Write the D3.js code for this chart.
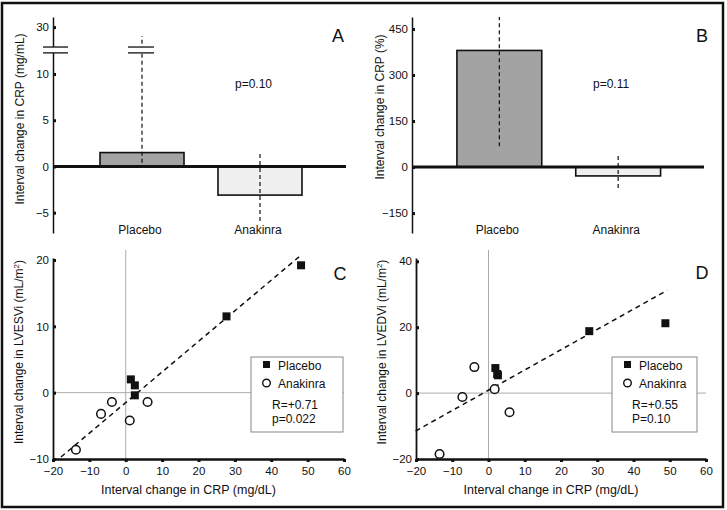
<!DOCTYPE html>
<html><head><meta charset="utf-8">
<script src="https://cdn.jsdelivr.net/npm/d3@7"></script>
<style>
body{margin:0;background:#fff}
svg{display:block}
text{font-family:"Liberation Sans",Arial,Helvetica,sans-serif;fill:#111}
</style>
</head><body>
<svg id="chart" width="727" height="510"></svg>
<script>
// ---------------- DATA ----------------
const groups = ["Placebo", "Anakinra"];

// Panel A: interval change in CRP (mg/mL)
const aMeans = [1.5, -3.1];
const aErrLo = [0.4, -5.9];
const aErrHi = [26.2, 1.5];
const aTicks = [-5, 0, 5, 10, 30];
const aBreak = [19, 21.5];
const aP = "p=0.10";

// Panel B: interval change in CRP (%)
const bMeans = [380, -29];
const bErrLo = [68, -68];
const bErrHi = [489, 45];
const bTicks = [-150, 0, 150, 300, 450];
const bP = "p=0.11";

// Panel C: LVESVi vs CRP
const cPlaceboX = [48.2, 27.7, 1.4, 2.5, 2.5];
const cPlaceboY = [19.2, 11.5, 2.0, 1.1, -0.4];
const cAnakX = [-3.8, -6.8, 6.0, 1.1, -13.7];
const cAnakY = [-1.4, -3.2, -1.4, -4.2, -8.6];
const cFitX = [-17.8, 47.9];
const cFitY = [-9.7, 20.6];
const cYTicks = [-10, 0, 10, 20];
const cStats = ["R=+0.71", "p=0.022"];

// Panel D: LVEDVi vs CRP
const dPlaceboX = [48.8, 27.8, 1.9, 2.6, 2.4];
const dPlaceboY = [21.2, 18.8, 7.6, 5.4, 5.8];
const dAnakX = [-3.9, -7.2, 1.7, 5.8, -13.5];
const dAnakY = [7.9, -1.2, 1.2, -5.8, -18.5];
const dFitX = [-20.1, 49.3];
const dFitY = [-11.5, 31.2];
const dYTicks = [-20, 0, 20, 40];
const dStats = ["R=+0.55", "P=0.10"];

const xTicks = [-20, -10, 0, 10, 20, 30, 40, 50, 60];

// ---------------- DRAW ----------------
const svg = d3.select("#chart");
const FONT = '"Liberation Sans",Arial,Helvetica,sans-serif';

// outer frame
svg.append("rect").attr("x", 2).attr("y", 3).attr("width", 721).attr("height", 504)
  .attr("fill", "none").attr("stroke", "#111").attr("stroke-width", 2.5);

function styleAxis(g, labelSize) {
  g.attr("font-family", FONT).attr("font-size", labelSize || 11);
  g.select(".domain").attr("stroke", "#111").attr("stroke-width", 1.8);
  g.selectAll(".tick line").attr("stroke", "#111").attr("stroke-width", 3);
  g.selectAll(".tick text").attr("fill", "#111");
}

function yLabel(x, y, txt, sup) {
  const t = svg.append("text")
    .attr("transform", `translate(${x},${y}) rotate(-90)`)
    .attr("text-anchor", "middle").attr("dy", "0.35em")
    .attr("font-size", 12);
  t.append("tspan").text(txt);
  if (sup) {
    t.append("tspan").attr("font-size", 8).attr("baseline-shift", "super").text(sup);
    t.append("tspan").text(")");
  }
}

// ---------- bar panels ----------
function barPanel(o) {
  const x = d3.scaleBand().domain(groups).range(o.xRange)
    .paddingInner(o.padIn).paddingOuter(0.5);
  const y = o.y;
  const g = svg.append("g");

  // bars
  g.selectAll("rect.bar").data(groups).join("rect")
    .attr("x", d => x(d)).attr("width", x.bandwidth())
    .attr("y", (d, i) => Math.min(y(o.means[i]), y(0)))
    .attr("height", (d, i) => Math.abs(y(o.means[i]) - y(0)))
    .attr("fill", (d, i) => i === 0 ? "#a3a3a3" : "#efefef")
    .attr("stroke", "#111").attr("stroke-width", 1.6);

  // error bars
  g.selectAll("line.err").data(groups).join("line")
    .attr("x1", d => x(d) + x.bandwidth() / 2).attr("x2", d => x(d) + x.bandwidth() / 2)
    .attr("y1", (d, i) => y(o.lo[i])).attr("y2", (d, i) => y(o.hi[i]))
    .attr("stroke", "#111").attr("stroke-width", 1.2).attr("stroke-dasharray", "4,3");

  // axis
  const ax = g.append("g").attr("transform", `translate(${o.axisX},0)`)
    .call(d3.axisLeft(y).tickValues(o.ticks).tickSize(-3).tickSizeOuter(0).tickPadding(o.tickPad));
  styleAxis(ax, 11.5);
  ax.select(".domain").attr("stroke-width", 1.5);

  // zero line
  g.append("line").attr("x1", o.axisX).attr("x2", o.zeroEnd)
    .attr("y1", y(0)).attr("y2", y(0)).attr("stroke", "#111").attr("stroke-width", 3);

  // category labels
  g.selectAll("text.cat").data(groups).join("text")
    .attr("x", d => x(d) + x.bandwidth() / 2 - 2).attr("y", 233.5)
    .attr("text-anchor", "middle").attr("font-size", 12).text(d => d);

  return {x, y, g};
}

// Panel A
const yA = d3.scaleLinear().domain([-7.2, 10, 34.3]).range([233, 74, 17]);
const pa = barPanel({xRange: [41, 361], padIn: 0.288, y: yA, means: aMeans, lo: aErrLo, hi: aErrHi,
  ticks: aTicks, axisX: 53, zeroEnd: 346, tickPad: 4});
// axis break marks
[[43, 68], [pa.x("Placebo") + pa.x.bandwidth() / 2 - 14, pa.x("Placebo") + pa.x.bandwidth() / 2 + 12]].forEach(([x1, x2]) => {
  svg.append("rect").attr("x", x1).attr("width", x2 - x1)
    .attr("y", yA(aBreak[1])).attr("height", yA(aBreak[0]) - yA(aBreak[1])).attr("fill", "#fff");
  aBreak.forEach(v => svg.append("line").attr("x1", x1).attr("x2", x2)
    .attr("y1", yA(v)).attr("y2", yA(v)).attr("stroke", "#111").attr("stroke-width", 1.3));
});
svg.append("text").attr("x", 235).attr("y", 87.5).attr("font-size", 12).text(aP);
svg.append("text").attr("x", 338).attr("y", 41.5).attr("text-anchor", "middle").attr("font-size", 18).text("A");
yLabel(20, 119, "Interval change in CRP (mg/mL)");

// Panel B
const yB = d3.scaleLinear().domain([-215, 489]).range([233, 17]);
barPanel({xRange: [397.5, 720], padIn: 0.286, y: yB, means: bMeans, lo: bErrLo, hi: bErrHi,
  ticks: bTicks, axisX: 412, zeroEnd: 704, tickPad: 4});
svg.append("text").attr("x", 593).attr("y", 87.5).attr("font-size", 12).text(bP);
svg.append("text").attr("x", 702).attr("y", 41.5).attr("text-anchor", "middle").attr("font-size", 18).text("B");
yLabel(380, 107, "Interval change in CRP (%)");

// ---------- scatter panels ----------
function scatterPanel(o) {
  const x = d3.scaleLinear().domain([-20, 60]).range(o.xRange);
  const y = d3.scaleLinear().domain(o.yDomain).range([459, o.yTop]);
  const g = svg.append("g");

  // reference lines
  g.append("line").attr("x1", x(0)).attr("x2", x(0)).attr("y1", 250).attr("y2", y(o.yDomain[0]))
    .attr("stroke", "#aaa").attr("stroke-width", 1);
  g.append("line").attr("x1", o.xRange[0]).attr("x2", o.xRange[1]).attr("y1", y(0)).attr("y2", y(0))
    .attr("stroke", "#aaa").attr("stroke-width", 1);

  // fit line
  g.append("line").attr("x1", x(o.fitX[0])).attr("x2", x(o.fitX[1]))
    .attr("y1", y(o.fitY[0])).attr("y2", y(o.fitY[1]))
    .attr("stroke", "#111").attr("stroke-width", 1.5).attr("stroke-dasharray", "5,4");

  // axes
  const ay = g.append("g").attr("transform", `translate(${o.xRange[0]},0)`)
    .call(d3.axisLeft(y).tickValues(o.yTicks).tickSize(-3).tickSizeOuter(0).tickPadding(4));
  styleAxis(ay, 11.5);
  const axg = g.append("g").attr("transform", `translate(0,459)`)
    .call(d3.axisBottom(x).tickValues(xTicks).tickSize(3).tickSizeOuter(0).tickPadding(5));
  styleAxis(axg, 11.5);
  axg.select(".domain").attr("stroke-width", 2.5);

  // points
  const pl = o.px.map((v, i) => [v, o.py[i]]);
  const an = o.ax.map((v, i) => [v, o.ay[i]]);
  g.selectAll("circle.an").data(an).join("circle")
    .attr("cx", d => x(d[0])).attr("cy", d => y(d[1])).attr("r", 4.3)
    .attr("fill", "#fff").attr("stroke", "#111").attr("stroke-width", 1.5);
  g.selectAll("rect.pl").data(pl).join("rect")
    .attr("x", d => x(d[0]) - 4).attr("y", d => y(d[1]) - 4).attr("width", 8).attr("height", 8)
    .attr("fill", "#111");

  // legend
  const L = o.legend;
  g.append("rect").attr("x", L.x).attr("y", 357).attr("width", L.w).attr("height", 75)
    .attr("fill", "#fff").attr("stroke", "#888").attr("stroke-width", 1);
  g.append("rect").attr("x", L.x + 12).attr("y", 361).attr("width", 7).attr("height", 7).attr("fill", "#111");
  g.append("text").attr("x", L.x + 27).attr("y", 369.5).attr("font-size", 12).text(groups[0]);
  g.append("circle").attr("cx", L.x + 15.5).attr("cy", 383).attr("r", 3.8)
    .attr("fill", "#fff").attr("stroke", "#111").attr("stroke-width", 1.4);
  g.append("text").attr("x", L.x + 27).attr("y", 387.5).attr("font-size", 12).text(groups[1]);
  g.append("text").attr("x", L.x + L.tx).attr("y", 408.5).attr("font-size", 12).text(o.stats[0]);
  g.append("text").attr("x", L.x + L.tx).attr("y", 422.5).attr("font-size", 12).text(o.stats[1]);

  // x label
  g.append("text").attr("x", (o.xRange[0] + o.xRange[1]) / 2 - 10).attr("y", 493.5)
    .attr("text-anchor", "middle").attr("font-size", 12.5).text("Interval change in CRP (mg/dL)");
}

scatterPanel({xRange: [53, 344], yDomain: [-10, 20.3], yTop: 258, yTicks: cYTicks,
  px: cPlaceboX, py: cPlaceboY, ax: cAnakX, ay: cAnakY, fitX: cFitX, fitY: cFitY,
  stats: cStats, legend: {x: 251, w: 92, tx: 21}});
svg.append("text").attr("x", 340).attr("y", 279.5).attr("text-anchor", "middle").attr("font-size", 18).text("C");
yLabel(19, 352, "Interval change in LVESVi (mL/m", "2");

scatterPanel({xRange: [416, 706], yDomain: [-20, 41], yTop: 258, yTicks: dYTicks,
  px: dPlaceboX, py: dPlaceboY, ax: dAnakX, ay: dAnakY, fitX: dFitX, fitY: dFitY,
  stats: dStats, legend: {x: 612, w: 85, tx: 20}});
svg.append("text").attr("x", 702).attr("y", 278.5).attr("text-anchor", "middle").attr("font-size", 18).text("D");
yLabel(382, 352, "Interval change in LVEDVi (mL/m", "2");
</script>
</body></html>
